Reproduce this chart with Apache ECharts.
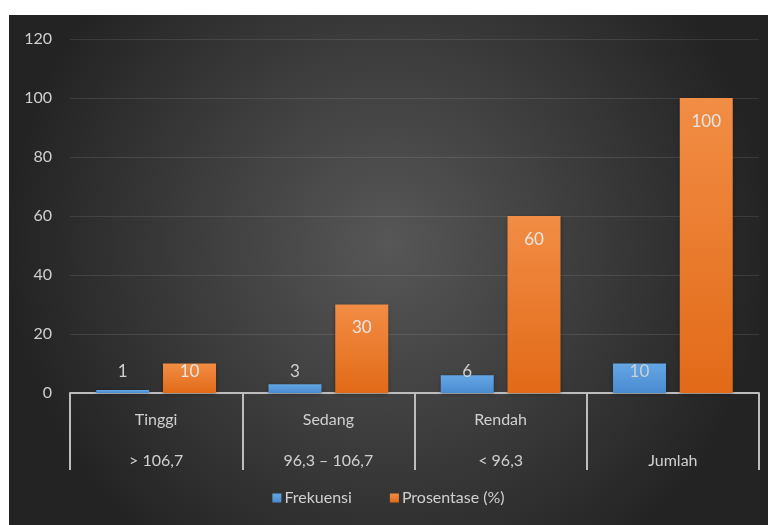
<!DOCTYPE html>
<html>
<head>
<meta charset="utf-8">
<script src="https://cdn.jsdelivr.net/npm/echarts@6/dist/echarts.min.js"></script>
<style>
  html, body { margin: 0; padding: 0; background: #ffffff; }
  #chart { position: absolute; left: 9px; top: 15px; width: 759px; height: 510px; }
</style>
</head>
<body>
<div id="chart"></div>
<script>
// Two-level category labels: group name and IQ score range
const groupNames = ['Tinggi', 'Sedang', 'Rendah', ''];
const rangeNames = ['> 106,7', '96,3 – 106,7', '< 96,3', 'Jumlah'];
const frekuensi = [1, 3, 6, 10];
const prosentase = [10, 30, 60, 100];
const yTicks = [0, 20, 40, 60, 80, 100, 120];

const FONT = 'Lato, "Open Sans", sans-serif';
const TEXT = '#d0d0d0';

// Labels sit inside the top of tall bars; short bars get a fixed baseline spot
function barLabels(values) {
  return values.map(v => ({
    value: v,
    label: v < 15
      ? { position: 'insideBottom', distance: 13 }
      : { position: 'insideTop', distance: 15 }
  }));
}

function vGrad(top, bottom) {
  return new echarts.graphic.LinearGradient(0, 0, 0, 1, [
    { offset: 0, color: top }, { offset: 1, color: bottom }
  ]);
}

const chart = echarts.init(document.getElementById('chart'));
chart.setOption({
  backgroundColor: {
    type: 'radial', x: 0.5, y: 0.45, r: 0.75,
    colorStops: [
      { offset: 0, color: '#575757' },
      { offset: 1, color: '#232323' }
    ]
  },
  textStyle: { fontFamily: FONT },
  grid: { left: 61, right: 9, top: 24, bottom: 132 },
  legend: {
    bottom: 14,
    left: 'center',
    itemWidth: 9, itemHeight: 9, itemGap: 38,
    icon: 'rect',
    textStyle: { color: TEXT, fontSize: 16, fontFamily: FONT, padding: [0, 0, 0, -2] },
    data: ['Frekuensi', 'Prosentase (%)']
  },
  xAxis: {
    type: 'category',
    data: groupNames.map((g, i) => g + '\n' + rangeNames[i]),
    boundaryGap: true,
    axisLine: { lineStyle: { color: '#bdbdbd', width: 2 } },
    axisTick: { show: true, interval: 0, length: 77, lineStyle: { color: '#bdbdbd', width: 2 } },
    axisLabel: {
      interval: 0, margin: 6, color: TEXT, fontSize: 16, lineHeight: 41, fontFamily: FONT
    }
  },
  yAxis: {
    type: 'value',
    min: yTicks[0], max: yTicks[yTicks.length - 1], interval: 20,
    axisLine: { show: false },
    axisTick: { show: false },
    axisLabel: { color: TEXT, fontSize: 16, margin: 18, fontFamily: FONT },
    splitLine: { lineStyle: { color: 'rgba(255,255,255,0.1)', width: 1 } }
  },
  series: [
    {
      name: 'Frekuensi',
      type: 'bar',
      barWidth: 53,
      barGap: '26%',
      data: barLabels(frekuensi),
      itemStyle: {
        color: vGrad('#63a6e4', '#4a8bd0'),
        shadowBlur: 4, shadowColor: 'rgba(0,0,0,0.35)', shadowOffsetY: 1
      },
      label: { show: true, color: TEXT, fontSize: 17, fontFamily: FONT }
    },
    {
      name: 'Prosentase (%)',
      type: 'bar',
      barWidth: 53,
      barGap: '26%',
      data: barLabels(prosentase),
      itemStyle: {
        color: vGrad('#f28d45', '#e26a18'),
        shadowBlur: 4, shadowColor: 'rgba(0,0,0,0.35)', shadowOffsetY: 1
      },
      label: { show: true, color: '#e6e6e6', fontSize: 17, fontFamily: FONT }
    }
  ]
});
</script>
</body>
</html>
